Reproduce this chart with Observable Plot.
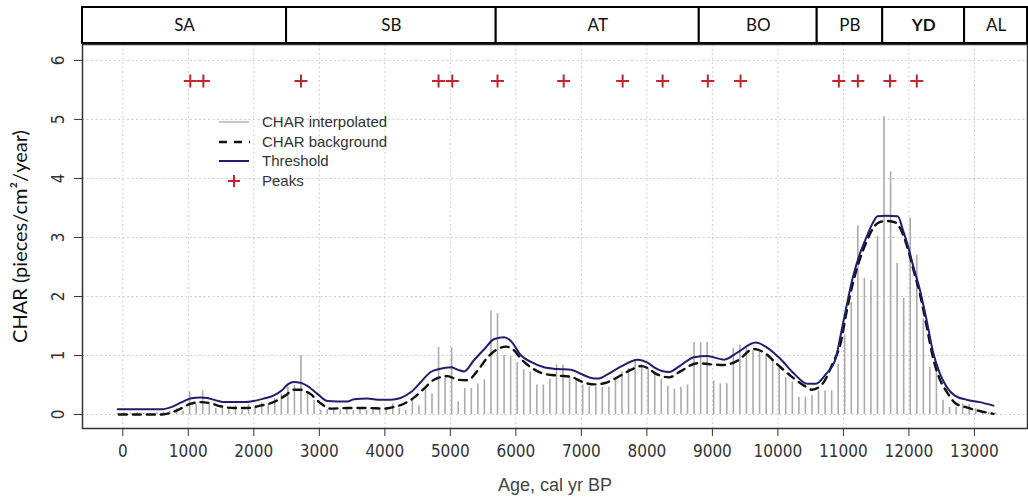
<!DOCTYPE html>
<html><head><meta charset="utf-8">
<script src="https://cdn.jsdelivr.net/npm/d3@7"></script>
<script src="https://cdn.jsdelivr.net/npm/@observablehq/plot@0.6"></script>
<style>
html,body{margin:0;padding:0;background:#fff;}
#chart{position:relative;width:1028px;height:502px;overflow:hidden;background:#fff;}
#chart svg{display:block;}
#legend{position:absolute;left:0;top:0;pointer-events:none;}
</style></head><body><div id="chart"></div>
<script>
// ---- data ----
const ages = [
  -80, 20, 120, 220, 320, 420, 520, 620, 720, 820,
  920, 1020, 1120, 1220, 1320, 1420, 1520, 1620, 1720, 1820,
  1920, 2020, 2120, 2220, 2320, 2420, 2520, 2620, 2720, 2820,
  2920, 3020, 3120, 3220, 3320, 3420, 3520, 3620, 3720, 3820,
  3920, 4020, 4120, 4220, 4320, 4420, 4520, 4620, 4720, 4820,
  4920, 5020, 5120, 5220, 5320, 5420, 5520, 5620, 5720, 5820,
  5920, 6020, 6120, 6220, 6320, 6420, 6520, 6620, 6720, 6820,
  6920, 7020, 7120, 7220, 7320, 7420, 7520, 7620, 7720, 7820,
  7920, 8020, 8120, 8220, 8320, 8420, 8520, 8620, 8720, 8820,
  8920, 9020, 9120, 9220, 9320, 9420, 9520, 9620, 9720, 9820,
  9920, 10020, 10120, 10220, 10320, 10420, 10520, 10620, 10720, 10820,
  10920, 11020, 11120, 11220, 11320, 11420, 11520, 11620, 11720, 11820,
  11920, 12020, 12120, 12220, 12320, 12420, 12520, 12620, 12720, 12820,
  12920, 13020, 13120, 13220, 13320
];
const charInterp = [
  0.02, 0.03, 0.02, 0.03, 0.02, 0.02, 0.03, 0.04, 0.05, 0.10,
  0.06, 0.38, 0.17, 0.40, 0.17, 0.10, 0.15, 0.08, 0.15, 0.07,
  0.17, 0.12, 0.20, 0.18, 0.27, 0.35, 0.46, 0.49, 1.00, 0.38,
  0.24, 0.07, 0.08, 0.11, 0.08, 0.11, 0.07, 0.11, 0.07, 0.11,
  0.08, 0.10, 0.18, 0.10, 0.07, 0.25, 0.15, 0.42, 0.35, 1.14,
  0.62, 1.13, 0.22, 0.44, 0.44, 0.52, 0.59, 1.76, 1.71, 1.00,
  0.98, 0.88, 0.76, 0.72, 0.50, 0.50, 0.60, 0.84, 0.84, 0.64,
  0.60, 0.50, 0.47, 0.47, 0.46, 0.46, 0.60, 0.72, 0.78, 0.90,
  0.85, 0.78, 0.70, 0.60, 0.48, 0.43, 0.46, 0.50, 1.22, 1.22,
  1.22, 0.57, 0.52, 0.52, 1.12, 1.17, 1.12, 1.08, 1.05, 1.00,
  0.93, 0.78, 0.62, 0.55, 0.29, 0.29, 0.32, 0.40, 0.40, 0.40,
  0.85, 1.35, 1.90, 3.20, 2.31, 2.27, 3.02, 5.05, 4.11, 2.56,
  1.97, 3.33, 2.70, 1.62, 0.80, 0.75, 0.24, 0.12, 0.12, 0.18,
  0.17, 0.10, 0.05, 0.04, 0.03
];
const bgAges = [-60, 600, 830, 1030, 1190, 1340, 1490, 1700, 1900, 2100, 2300, 2480, 2610, 2710, 2860, 3020, 3170, 3430, 3730, 3990,
  4140, 4240, 4450, 4600, 4750, 4960, 5110, 5260, 5420, 5570, 5720, 5850, 5980, 6080, 6230, 6430, 6640, 6840, 7020, 7200,
  7350, 7550, 7760, 7910, 8040, 8110, 8340, 8510, 8770, 8970, 9180, 9380, 9630, 9790, 9990, 10190, 10400, 10520, 10680, 10830,
  10960, 11050, 11150, 11250, 11350, 11450, 11520, 11650, 11800, 11910, 11990, 12070, 12170, 12270, 12370, 12470, 12580, 12700, 12880, 13080, 13290];
const bgValues = [0.00, 0.00, 0.07, 0.18, 0.21, 0.19, 0.14, 0.11, 0.11, 0.15, 0.21, 0.32, 0.42, 0.42, 0.35, 0.19, 0.10, 0.11, 0.11, 0.10,
  0.13, 0.16, 0.29, 0.44, 0.59, 0.65, 0.59, 0.58, 0.75, 0.97, 1.11, 1.15, 1.08, 0.94, 0.80, 0.69, 0.66, 0.64, 0.55, 0.51,
  0.53, 0.63, 0.76, 0.82, 0.77, 0.71, 0.63, 0.73, 0.87, 0.85, 0.84, 0.91, 1.11, 1.05, 0.85, 0.66, 0.49, 0.42, 0.52, 0.85,
  1.22, 1.75, 2.25, 2.63, 2.92, 3.15, 3.24, 3.28, 3.25, 3.05, 2.78, 2.45, 2.03, 1.50, 0.95, 0.60, 0.38, 0.20, 0.12, 0.06, 0.01];
const thAges = [-76, 600, 750, 900, 1030, 1190, 1290, 1420, 1540, 1850, 2000, 2150, 2300, 2430, 2530, 2610, 2710, 2810, 2970, 3120,
  3430, 3530, 3730, 3930, 4090, 4240, 4400, 4550, 4700, 4830, 5010, 5110, 5210, 5360, 5520, 5670, 5820, 5920, 6080, 6230,
  6430, 6640, 6840, 6990, 7150, 7250, 7400, 7600, 7860, 8010, 8110, 8340, 8510, 8720, 8920, 9180, 9380, 9660, 9840, 10040,
  10240, 10450, 10580, 10730, 10880, 10950, 11050, 11150, 11250, 11350, 11450, 11520, 11650, 11830, 11910, 11990, 12070, 12170, 12270, 12370,
  12470, 12580, 12700, 12880, 13080, 13290];
const thValues = [0.09, 0.09, 0.13, 0.21, 0.27, 0.29, 0.28, 0.24, 0.21, 0.21, 0.23, 0.27, 0.32, 0.41, 0.52, 0.55, 0.54, 0.49, 0.35, 0.23,
  0.22, 0.26, 0.27, 0.25, 0.25, 0.28, 0.38, 0.55, 0.72, 0.77, 0.80, 0.76, 0.73, 0.92, 1.11, 1.28, 1.31, 1.25, 1.00, 0.89,
  0.80, 0.77, 0.76, 0.69, 0.62, 0.61, 0.68, 0.81, 0.93, 0.88, 0.80, 0.72, 0.83, 0.97, 0.99, 0.93, 1.05, 1.22, 1.13, 0.94,
  0.70, 0.52, 0.52, 0.68, 0.94, 1.30, 1.85, 2.35, 2.72, 3.00, 3.25, 3.36, 3.37, 3.36, 3.12, 2.84, 2.50, 2.10, 1.60, 1.05,
  0.70, 0.46, 0.32, 0.25, 0.21, 0.15];
const peakAges = [1030, 1230, 2720, 4820, 5030, 5720, 6730, 7630, 8240, 8930, 9430, 10930, 11220, 11710, 12120];
const peakLevel = 5.65;
const zoneNames = ["SA", "SB", "AT", "BO", "PB", "YD", "AL"];
const zoneBounds = [2500, 5700, 8800, 10600, 11600, 12850];
const xTicks = [0, 1000, 2000, 3000, 4000, 5000, 6000, 7000, 8000, 9000, 10000, 11000, 12000, 13000];
const yTicks = [0, 1, 2, 3, 4, 5, 6];
const legendLabels = ["CHAR interpolated", "CHAR background", "Threshold", "Peaks"];
const yTitle = "CHAR (pieces/cm²/year)";
const xTitle = "Age, cal yr BP";

// ---- build ----
const xDomain = [-615, 13810];
const yDomain = [-0.237, 6.27];
const colors = {bar: "#ababab", bg: "#111111", th: "#1f1f6e", peak: "#c0262c", grid: "#cfcfcf", axis: "#333333"};

const zones = zoneNames.map((name, i) => ({
  name,
  x1: i === 0 ? xDomain[0] : zoneBounds[i - 1],
  x2: i === zoneNames.length - 1 ? xDomain[1] : zoneBounds[i]
}));
const bars = ages.map((a, i) => ({age: a, value: charInterp[i]}));
const bg = bgAges.map((a, i) => ({age: a, value: bgValues[i]}));
const th = thAges.map((a, i) => ({age: a, value: thValues[i]}));
const peaks = peakAges.map(a => ({age: a, value: peakLevel}));

const cross = {
  draw(context, size) {
    const r = Math.sqrt(size / Math.PI);
    context.moveTo(-r, 0); context.lineTo(r, 0);
    context.moveTo(0, -r); context.lineTo(0, r);
  }
};

const zonePlot = Plot.plot({
  width: 1028, height: 44,
  marginLeft: 82, marginRight: 1, marginTop: 7, marginBottom: 1,
  style: {fontFamily: "Lato, 'Open Sans', sans-serif", background: "white", overflow: "visible"},
  x: {domain: xDomain, axis: null},
  marks: [
    Plot.rect(zones, {x1: "x1", x2: "x2", fill: "white", stroke: "black", strokeWidth: 2}),
    Plot.text(zones, {filter: d => d.name !== "YD", x: d => (d.x1 + d.x2) / 2, text: "name", frameAnchor: "middle", fontSize: 17, fill: "#111"}),
    Plot.text(zones, {filter: d => d.name === "YD", x: d => (d.x1 + d.x2) / 2, text: "name", frameAnchor: "middle", fontSize: 17, fontWeight: "bold", fill: "#111"})
  ]
});

const mainPlot = Plot.plot({
  width: 1028, height: 458,
  marginLeft: 82, marginRight: 1, marginTop: 0, marginBottom: 74,
  style: {fontFamily: "'Liberation Sans', Arial, sans-serif", background: "white", overflow: "visible"},
  x: {domain: xDomain, axis: null},
  y: {domain: yDomain, axis: null},
  marks: [
    Plot.gridX(xTicks, {stroke: colors.grid, strokeOpacity: 1, strokeDasharray: "2,2.5"}),
    Plot.gridY(yTicks, {stroke: colors.grid, strokeOpacity: 1, strokeDasharray: "2,2.5"}),
    Plot.ruleX(bars, {x: "age", y1: 0, y2: "value", stroke: colors.bar, strokeWidth: 1.6}),
    Plot.line(bg, {x: "age", y: "value", stroke: colors.bg, strokeWidth: 2.4, strokeDasharray: "8,6", curve: "monotone-x"}),
    Plot.line(th, {x: "age", y: "value", stroke: colors.th, strokeWidth: 2, curve: "monotone-x"}),
    Plot.dot(peaks, {x: "age", y: "value", symbol: cross, r: 6.5, stroke: colors.peak, strokeWidth: 2, fill: "none"}),
    Plot.frame({stroke: "#333", strokeWidth: 1.5}),
    Plot.axisX(xTicks, {anchor: "bottom", tickSize: 8, tickPadding: 8, fontSize: 17,
      fontFamily: "'Liberation Sans Narrow', 'DejaVu Sans Condensed', sans-serif",
      color: colors.axis, tickFormat: d => `${d}`, label: null}),
    Plot.axisY(yTicks, {anchor: "left", tickSize: 8, tickPadding: 11, tickRotate: -90, fontSize: 17,
      fontFamily: "'Liberation Sans Narrow', 'DejaVu Sans Condensed', sans-serif",
      color: colors.axis, tickFormat: d => `${d}`, label: null}),
    Plot.text([yTitle], {frameAnchor: "left", dx: -62, rotate: -90, textAnchor: "middle", lineAnchor: "middle", fontSize: 20,
      fontFamily: "Lato, 'Open Sans', sans-serif", fill: "#111"}),
    Plot.text([xTitle], {frameAnchor: "bottom", dy: 57, textAnchor: "middle", lineAnchor: "middle", fontSize: 18, fill: "#444"})
  ]
});

const root = document.getElementById("chart");
root.appendChild(zonePlot);
root.appendChild(mainPlot);

// legend (inside plot area, top-left)
const leg = d3.select(root).append("svg").attr("id", "legend").attr("width", 1028).attr("height", 502)
  .style("font-family", "'Liberation Sans', Arial, sans-serif");
const rowY = [122, 142, 161, 181];
const g = leg.append("g");
g.append("line").attr("x1", 219).attr("x2", 249).attr("y1", rowY[0]).attr("y2", rowY[0]).attr("stroke", "#b8b8b8").attr("stroke-width", 1.6);
g.append("line").attr("x1", 218).attr("x2", 250).attr("y1", rowY[1]).attr("y2", rowY[1]).attr("stroke", colors.bg).attr("stroke-width", 2.4).attr("stroke-dasharray", "8,7").attr("stroke-dashoffset", -1);
g.append("line").attr("x1", 219).attr("x2", 249).attr("y1", rowY[2]).attr("y2", rowY[2]).attr("stroke", colors.th).attr("stroke-width", 2);
g.append("path").attr("d", `M${228},${rowY[3]}h12M${234},${rowY[3] - 6}v12`).attr("stroke", colors.peak).attr("stroke-width", 2).attr("fill", "none");
legendLabels.forEach((t, i) => {
  g.append("text").attr("x", 262).attr("y", rowY[i]).attr("dy", "0.36em").attr("font-size", 15).attr("fill", "#333").text(t);
});
</script>
</body></html>
